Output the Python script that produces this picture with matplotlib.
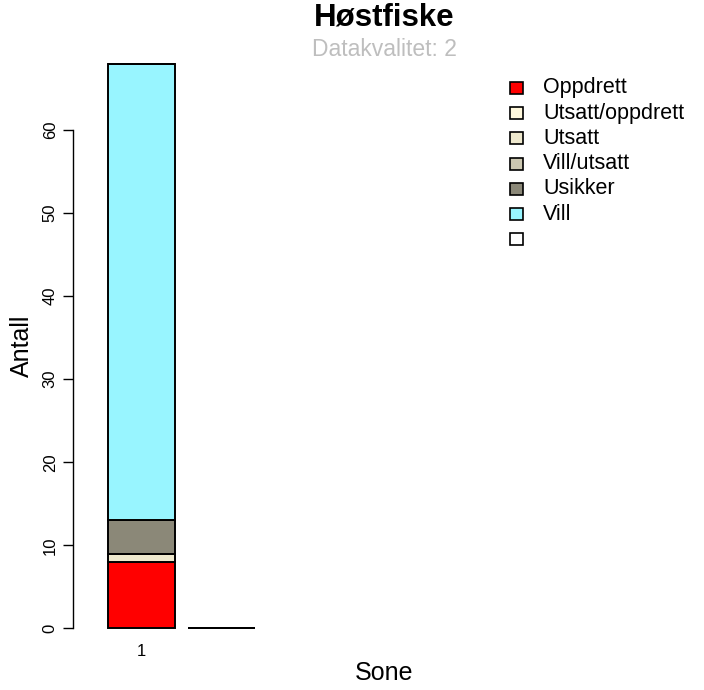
import matplotlib

matplotlib.use("Agg")
import matplotlib.pyplot as plt
from matplotlib.patches import Rectangle

plt.rcParams["font.family"] = ["Liberation Sans", "DejaVu Sans"]

# Data
zones = ["1", ""]
categories = ["Oppdrett", "Utsatt/oppdrett", "Utsatt", "Vill/utsatt", "Usikker", "Vill", ""]
oppdrett = [8, 0]
utsatt_oppdrett = [0, 0]
utsatt = [1, 0]
vill_utsatt = [0, 0]
usikker = [4, 0]
vill = [55, 0]
blank = [0, 0]
series = [oppdrett, utsatt_oppdrett, utsatt, vill_utsatt, usikker, vill, blank]
colors = ["#FF0000", "#FFF8DC", "#EEE8CD", "#CDC8B1", "#8B8878", "#98F5FF", "#FFFFFF"]

W, H = 704, 690
fig = plt.figure(figsize=(W / 100, H / 100), dpi=100)
# plot region in pixels
left_px, right_px, top_px, bot_px = 73, 690, 41, 651
ax = fig.add_axes([left_px / W, 1 - bot_px / H, (right_px - left_px) / W, (bot_px - top_px) / H])

# R-style barplot positions: width 1, space 0.2
xpos = [0.2 + 1.2 * i + 0.5 for i in range(len(zones))]
bottoms = [0] * len(zones)
for vals, col in zip(series, colors):
    ax.bar(xpos, vals, width=1.0, bottom=bottoms, color=col,
           edgecolor="black", linewidth=1.4)
    bottoms = [b + v for b, v in zip(bottoms, vals)]

total = max(bottoms)
ax.set_ylim(-0.04 * total, 1.04 * total)
ax.set_xlim(-(94.6 - left_px) / 67, (right_px - 94.6) / 67)

for s in ["top", "right", "bottom"]:
    ax.spines[s].set_visible(False)
ax.spines["left"].set_bounds(0, 60)
ax.spines["left"].set_linewidth(1.0)
ax.set_yticks(range(0, 61, 10))
ax.tick_params(axis="y", length=7, width=1.0, labelsize=12, pad=4)
for lbl in ax.get_yticklabels():
    lbl.set_rotation(90)
    lbl.set_va("center")
ax.set_xticks(xpos)
ax.set_xticklabels(zones)
ax.tick_params(axis="x", length=0, labelsize=12, pad=-5)

cx = 384 / W
fig.text(22 / W, 1 - 346 / H, "Antall", rotation=90, ha="center", va="center", fontsize=18)
fig.text(cx, 1 - 673 / H, "Sone", ha="center", va="center", fontsize=18)
fig.text(cx, 1 - 18 / H, "Høstfiske", ha="center", va="center",
         fontsize=22.5, fontweight="bold")
fig.text(cx, 1 - 50 / H, "Datakvalitet: 2", ha="center", va="center",
         fontsize=16.5, color="#BEBEBE")

# legend, R style
for i, (cat, col) in enumerate(zip(categories, colors)):
    yc = 88 + 25.2 * i
    fig.patches.append(Rectangle((510 / W, 1 - (yc + 6) / H), 13 / W, 12 / H,
                                 transform=fig.transFigure, facecolor=col,
                                 edgecolor="black", linewidth=1.2))
    fig.text(543 / W, 1 - yc / H, cat, ha="left", va="center", fontsize=15.5)

fig.savefig("out.png", dpi=100)
